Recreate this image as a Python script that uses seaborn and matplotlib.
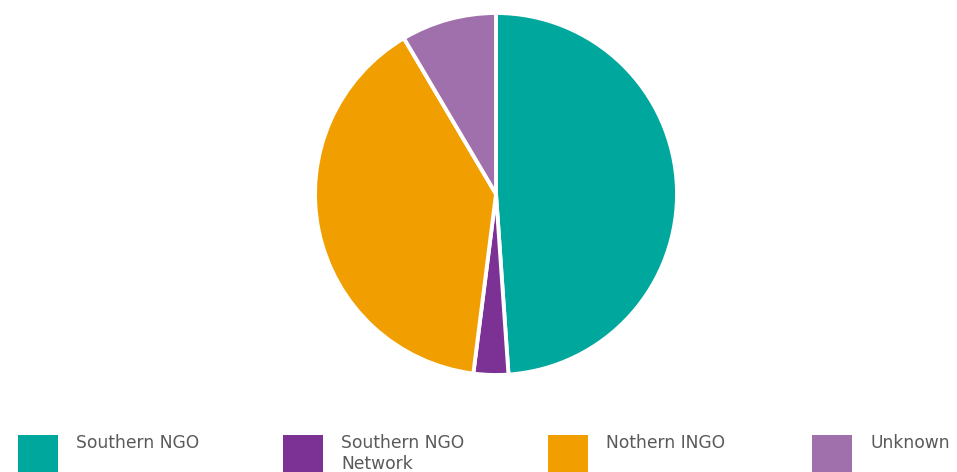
import matplotlib
matplotlib.use("Agg")
import matplotlib.pyplot as plt
from matplotlib.patches import Rectangle
import seaborn as sns

# Share of funding recipients by organisation type (%)
categories = ["Southern NGO", "Southern NGO\nNetwork", "Nothern INGO", "Unknown"]
shares = [48.9, 3.1, 39.5, 8.5]
colors = ["#00A79D", "#7B3294", "#F09E00", "#A070AD"]

sns.set_theme(style="white")
plt.rcParams["font.family"] = ["DejaVu Sans"]
palette = sns.color_palette(colors)

W, H = 957, 472
fig = plt.figure(figsize=(W / 100, H / 100), dpi=100)

# pie axes: centre (496, 194) px, radius 180 px
cx, cy, r = 496, 194, 181
ax = fig.add_axes([(cx - r) / W, (H - cy - r) / H, 2 * r / W, 2 * r / H])
ax.pie(shares, colors=palette, startangle=90, counterclock=False, radius=1.0,
       wedgeprops=dict(edgecolor="white", linewidth=2.8))
ax.set_xlim(-1, 1)
ax.set_ylim(-1, 1)
ax.set_axis_off()

# legend row along the bottom edge
col_x = [18, 283, 548, 812]
for x0, label, c in zip(col_x, categories, palette):
    fig.patches.append(Rectangle((x0 / W, 0), 40 / W, (H - 435) / H,
                                 transform=fig.transFigure, facecolor=c,
                                 edgecolor="none"))
    fig.text((x0 + 58) / W, (H - 434) / H, label, ha="left", va="top",
             fontsize=12.3, color="#5a5a5a", linespacing=1.2)

fig.savefig("out.png", dpi=100, facecolor="white")
